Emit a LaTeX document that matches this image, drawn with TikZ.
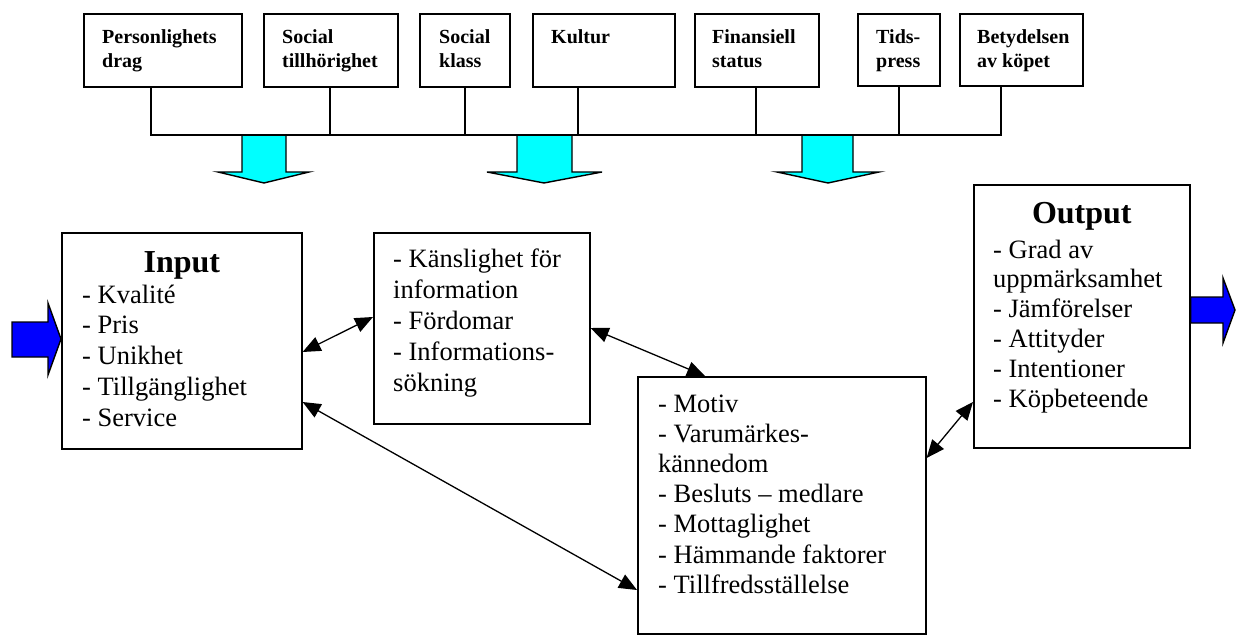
\documentclass[tikz,border=0pt]{standalone}
\usepackage{fontspec}
\setmainfont{Liberation Serif}
\usetikzlibrary{arrows.meta}
% stacked lines whose baseline is that of the first line
\newcommand{\linesof}[1]{\begin{tabular}[t]{@{}l@{}}#1\end{tabular}}
\definecolor{arrowcyan}{RGB}{0,255,255}
\definecolor{arrowblue}{RGB}{0,0,255}
\tikzset{
  frame/.style={draw, line width=1.6pt, inner sep=0pt, anchor=north west},
  factor/.style={font=\fontsize{20}{24}\selectfont\bfseries, inner sep=0pt, anchor=base west},
  body/.style={font=\fontsize{26.5}{#1}\selectfont, inner sep=0pt, anchor=base west},
  body/.default=30.5,
  head/.style={font=\fontsize{32}{36}\selectfont\bfseries, inner sep=0pt, anchor=base},
  bus/.style={line width=1.6pt},
  flow/.style={draw=black, line width=1.4pt, line join=miter},
  link/.style={line width=1.3pt, {Triangle[length=18pt,width=15pt]}-{Triangle[length=18pt,width=15pt]}}
}
\begin{document}
\begin{tikzpicture}[x=1pt, y=-1pt]
\useasboundingbox (0,0) rectangle (1236,639);

% influencing factors
\node[frame, minimum width=158pt, minimum height=73pt] (b1) at (83,13) {};
\node[frame, minimum width=134pt, minimum height=73pt] (b2) at (263,13) {};
\node[frame, minimum width=90pt,  minimum height=73pt] (b3) at (419,13) {};
\node[frame, minimum width=142pt, minimum height=73pt] (b4) at (532,13) {};
\node[frame, minimum width=124pt, minimum height=73pt] (b5) at (694,13) {};
\node[frame, minimum width=82pt,  minimum height=72pt] (b6) at (857,13) {};
\node[frame, minimum width=123pt, minimum height=72pt] (b7) at (959,13) {};

\node[factor] (t1) at (102,44) {\linesof{Personlighets\\drag}};
\node[factor] (t2) at (282,44) {\linesof{Social\\tillhörighet}};
\node[factor] (t3) at (439,44) {\linesof{Social\\klass}};
\node[factor] (t4) at (551,44) {Kultur};
\node[factor] (t5) at (712,44) {\linesof{Finansiell\\status}};
\node[factor] (t6) at (876,44) {\linesof{Tids-\\press}};
\node[factor] (t7) at (977,44) {\linesof{Betydelsen\\av köpet}};

% downward block arrows
\filldraw[flow, fill=arrowcyan] (242,135) -- (242,172) -- (218,172) -- (264,183)
  -- (309,172) -- (286,172) -- (286,135) -- cycle;
\filldraw[flow, fill=arrowcyan] (517,135) -- (517,172) -- (487,172) -- (544,183)
  -- (602,172) -- (572,172) -- (572,135) -- cycle;
\filldraw[flow, fill=arrowcyan] (802,135) -- (802,172) -- (777,172) -- (828,183)
  -- (879,172) -- (853,172) -- (853,135) -- cycle;

% collecting bus
\draw[bus] (b1.south -| 151,0) -- (151,135) -| (b7.south -| 1001,0);
\draw[bus] (b2.south -| 330,0) -- (330,135);
\draw[bus] (b3.south -| 465,0) -- (465,135);
\draw[bus] (b4.south -| 578,0) -- (578,135);
\draw[bus] (b5.south -| 756,0) -- (756,135);
\draw[bus] (b6.south -| 899,0) -- (899,135);

% main process boxes
\node[frame, minimum width=240pt, minimum height=216pt] (input) at (61,232) {};
\node[frame, minimum width=216pt, minimum height=191pt] (info) at (373,232) {};
\node[frame, minimum width=288pt, minimum height=257pt] (proc) at (637,376) {};
\node[frame, minimum width=216pt, minimum height=263pt] (output) at (973,184) {};

\node[head] (inhead) at (input.north |- 0,272) {Input};
\node[body=30.75] (inlist) at (82,303)
  {\linesof{- Kvalité\\- Pris\\- Unikhet\\- Tillgänglighet\\- Service}};

\node[body=31.2] (infolist) at (393,267)
  {\linesof{- Känslighet för\\information\\- Fördomar\\- Informations-\\sökning}};

\node[body=30.2] (proclist) at (658,412)
  {\linesof{- Motiv\\- Varumärkes-\\kännedom\\- Besluts -- medlare\\- Mottaglighet\\- Hämmande faktorer\\- Tillfredsställelse}};

\node[head] (outhead) at (output.north |- 0,223) {Output};
\node[body=29.8] (outlist) at (993,258)
  {\linesof{- Grad av\\uppmärksamhet\\- Jämförelser\\- Attityder\\- Intentioner\\- Köpbeteende}};

% incoming and outgoing block arrows
\filldraw[flow, fill=arrowblue] (12,322) -- (48,322) -- (48,303) -- (input.west |- 0,339)
  -- (48,375) -- (48,357) -- (12,357) -- cycle;
\filldraw[flow, fill=arrowblue] (output.east |- 0,297) -- (1223,297) -- (1223,278) -- (1235,310)
  -- (1223,343) -- (1223,323) -- (output.east |- 0,323) -- cycle;

% two-way relations
\draw[link] (input.east |- 0,352) -- (info.west |- 0,317);
\draw[link] (info.east |- 0,328) -- (proc.north -| 705,0);
\draw[link] (input.east |- 0,402) -- (proc.west |- 0,590);
\draw[link] (proc.east |- 0,458) -- (output.west |- 0,402);
\end{tikzpicture}
\end{document}
